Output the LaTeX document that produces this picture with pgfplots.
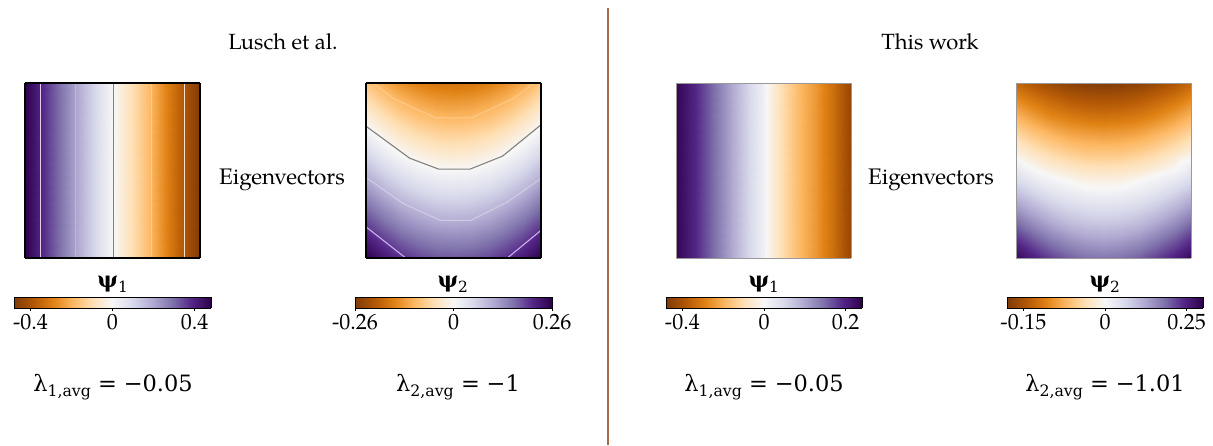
\documentclass[border=0pt]{standalone}
\usepackage{pgfplots}
\pgfplotsset{compat=1.18}
\usepackage{fontspec}
\setmainfont{TeX Gyre Pagella}
\newfontfamily\symfont{DejaVu Serif}

\definecolor{divider}{RGB}{168,108,68}

% PuOr diverging map, stops placed so that white sits at zero for each panel's range
\pgfplotsset{
  colormap={luschA}{rgb255(0pt)=(127,59,8) rgb255(96pt)=(179,88,6) rgb255(192pt)=(224,130,20) rgb255(288pt)=(253,184,99) rgb255(384pt)=(254,224,182) rgb255(480pt)=(247,247,247) rgb255(576pt)=(216,218,235) rgb255(672pt)=(178,171,210) rgb255(768pt)=(128,115,172) rgb255(864pt)=(84,39,136) rgb255(960pt)=(45,0,75)},
  colormap={luschB}{rgb255(0pt)=(127,59,8) rgb255(52pt)=(179,88,6) rgb255(104pt)=(224,130,20) rgb255(156pt)=(253,184,99) rgb255(208pt)=(254,224,182) rgb255(260pt)=(247,247,247) rgb255(312pt)=(216,218,235) rgb255(364pt)=(178,171,210) rgb255(416pt)=(128,115,172) rgb255(468pt)=(84,39,136) rgb255(520pt)=(45,0,75)},
  colormap={oursA}{rgb255(0pt)=(127,59,8) rgb255(96pt)=(179,88,6) rgb255(192pt)=(224,130,20) rgb255(288pt)=(253,184,99) rgb255(384pt)=(254,224,182) rgb255(480pt)=(247,247,247) rgb255(528pt)=(216,218,235) rgb255(576pt)=(178,171,210) rgb255(624pt)=(128,115,172) rgb255(672pt)=(84,39,136) rgb255(720pt)=(45,0,75)},
  colormap={oursB}{rgb255(0pt)=(127,59,8) rgb255(36pt)=(179,88,6) rgb255(72pt)=(224,130,20) rgb255(108pt)=(253,184,99) rgb255(144pt)=(254,224,182) rgb255(180pt)=(247,247,247) rgb255(240pt)=(216,218,235) rgb255(300pt)=(178,171,210) rgb255(360pt)=(128,115,172) rgb255(420pt)=(84,39,136) rgb255(480pt)=(45,0,75)},
  heat/.style={view={0}{90}, scale only axis, width=175pt, height=175pt,
    xmin=-0.5, xmax=0.5, ymin=-0.5, ymax=0.5, ticks=none,
    anchor=south west, axis on top, enlargelimits=false},
  % gradient strip of a colour bar
  cbar/.style={view={0}{90}, scale only axis, height=11pt, ymin=0, ymax=1,
    ticks=none, anchor=south west, axis on top, enlargelimits=false,
    axis line style={black, line width=0.7pt}},
  % tick marks and labels of a colour bar
  cticks/.style={scale only axis, height=11pt, ymin=0, ymax=1,
    ytick=\empty, anchor=south west, enlargelimits=false,
    xtick pos=left, tick align=outside, major tick length=3.5pt,
    axis line style={draw=none},
    xtick style={black, line width=0.6pt},
    xticklabel style={font=\fontsize{22}{26}\selectfont, inner sep=3pt}},
}

\begin{document}
\begin{tikzpicture}[x=1pt, y=1pt]
\path (0,0) rectangle (1213,445);

% ---------------- Lusch et al., psi_1 ----------------
\begin{axis}[heat, at={(25pt,187pt)}, colormap name=luschA,
  point meta min=-0.48, point meta max=0.48,
  axis line style={black, line width=1.6pt}]
\addplot3[surf, shader=interp, mesh/cols=11] coordinates {
(-0.5,-0.5,0.480) (-0.4,-0.5,0.386) (-0.3,-0.5,0.289) (-0.2,-0.5,0.192) (-0.1,-0.5,0.098) (0,-0.5,0.005) (0.1,-0.5,-0.087) (0.2,-0.5,-0.178) (0.3,-0.5,-0.280) (0.4,-0.5,-0.385) (0.5,-0.5,-0.480)
(-0.5,0.5,0.480) (-0.4,0.5,0.386) (-0.3,0.5,0.289) (-0.2,0.5,0.192) (-0.1,0.5,0.098) (0,0.5,0.005) (0.1,0.5,-0.087) (0.2,0.5,-0.178) (0.3,0.5,-0.280) (0.4,0.5,-0.385) (0.5,0.5,-0.480)
};
% contour levels 0.4, 0.2, 0, -0.2, -0.4
\addplot3[no marks, draw={rgb,255:red,225;green,205;blue,240}, line width=1pt] coordinates {(-0.414,-0.5,0) (-0.414,0.5,0)};
\addplot3[no marks, draw=white, draw opacity=0.25, line width=1pt] coordinates {(-0.209,-0.5,0) (-0.209,0.5,0)};
\addplot3[no marks, draw=gray, line width=1pt] coordinates {(0.005,-0.5,0) (0.005,0.5,0)};
\addplot3[no marks, draw=white, draw opacity=0.25, line width=1pt] coordinates {(0.224,-0.5,0) (0.224,0.5,0)};
\addplot3[no marks, draw={rgb,255:red,245;green,225;blue,210}, line width=1pt] coordinates {(0.414,-0.5,0) (0.414,0.5,0)};
\end{axis}

% ---------------- Lusch et al., psi_2 ----------------
\begin{axis}[heat, at={(366pt,187pt)}, colormap name=luschB,
  point meta min=-0.26, point meta max=0.26,
  axis line style={black, line width=1.6pt}]
\addplot3[surf, shader=interp, mesh/cols=11] table {
x y v
-0.5 -0.5 0.259
-0.4 -0.5 0.228
-0.3 -0.5 0.204
-0.2 -0.5 0.186
-0.1 -0.5 0.176
0 -0.5 0.173
0.1 -0.5 0.176
0.2 -0.5 0.186
0.3 -0.5 0.204
0.4 -0.5 0.228
0.5 -0.5 0.259
-0.5 -0.4 0.224
-0.4 -0.4 0.193
-0.3 -0.4 0.169
-0.2 -0.4 0.152
-0.1 -0.4 0.141
0 -0.4 0.138
0.1 -0.4 0.141
0.2 -0.4 0.152
0.3 -0.4 0.169
0.4 -0.4 0.193
0.5 -0.4 0.224
-0.5 -0.3 0.190
-0.4 -0.3 0.159
-0.3 -0.3 0.135
-0.2 -0.3 0.117
-0.1 -0.3 0.107
0 -0.3 0.104
0.1 -0.3 0.107
0.2 -0.3 0.117
0.3 -0.3 0.135
0.4 -0.3 0.159
0.5 -0.3 0.190
-0.5 -0.2 0.155
-0.4 -0.2 0.124
-0.3 -0.2 0.100
-0.2 -0.2 0.083
-0.1 -0.2 0.072
0 -0.2 0.069
0.1 -0.2 0.072
0.2 -0.2 0.083
0.3 -0.2 0.100
0.4 -0.2 0.124
0.5 -0.2 0.155
-0.5 -0.1 0.121
-0.4 -0.1 0.090
-0.3 -0.1 0.066
-0.2 -0.1 0.048
-0.1 -0.1 0.038
0 -0.1 0.035
0.1 -0.1 0.038
0.2 -0.1 0.048
0.3 -0.1 0.066
0.4 -0.1 0.090
0.5 -0.1 0.121
-0.5 0 0.086
-0.4 0 0.055
-0.3 0 0.031
-0.2 0 0.014
-0.1 0 0.003
0 0 0.000
0.1 0 0.003
0.2 0 0.014
0.3 0 0.031
0.4 0 0.055
0.5 0 0.086
-0.5 0.1 0.052
-0.4 0.1 0.021
-0.3 0.1 -0.003
-0.2 0.1 -0.021
-0.1 0.1 -0.031
0 0.1 -0.035
0.1 0.1 -0.031
0.2 0.1 -0.021
0.3 0.1 -0.003
0.4 0.1 0.021
0.5 0.1 0.052
-0.5 0.2 0.017
-0.4 0.2 -0.014
-0.3 0.2 -0.038
-0.2 0.2 -0.055
-0.1 0.2 -0.066
0 0.2 -0.069
0.1 0.2 -0.066
0.2 0.2 -0.055
0.3 0.2 -0.038
0.4 0.2 -0.014
0.5 0.2 0.017
-0.5 0.3 -0.017
-0.4 0.3 -0.048
-0.3 0.3 -0.072
-0.2 0.3 -0.090
-0.1 0.3 -0.100
0 0.3 -0.104
0.1 0.3 -0.100
0.2 0.3 -0.090
0.3 0.3 -0.072
0.4 0.3 -0.048
0.5 0.3 -0.017
-0.5 0.4 -0.052
-0.4 0.4 -0.083
-0.3 0.4 -0.107
-0.2 0.4 -0.124
-0.1 0.4 -0.135
0 0.4 -0.138
0.1 0.4 -0.135
0.2 0.4 -0.124
0.3 0.4 -0.107
0.4 0.4 -0.083
0.5 0.4 -0.052
-0.5 0.5 -0.086
-0.4 0.5 -0.117
-0.3 0.5 -0.141
-0.2 0.5 -0.159
-0.1 0.5 -0.169
0 0.5 -0.173
0.1 0.5 -0.169
0.2 0.5 -0.159
0.3 0.5 -0.141
0.4 0.5 -0.117
0.5 0.5 -0.086
};
% contour levels -0.1, 0, 0.1, 0.2
\addplot3[no marks, draw=white, draw opacity=0.25, line width=1pt] coordinates {(-0.46,0.5,0) (-0.34,0.41,0) (-0.1,0.30,0) (0.1,0.30,0) (0.34,0.41,0) (0.46,0.5,0)};
\addplot3[no marks, draw=gray, line width=1.1pt] coordinates {(-0.5,0.253,0) (-0.25,0.07,0) (-0.085,0.008,0) (0.095,0.008,0) (0.28,0.082,0) (0.5,0.261,0)};
\addplot3[no marks, draw=white, draw opacity=0.35, line width=1pt] coordinates {(-0.5,-0.04,0) (-0.285,-0.19,0) (-0.075,-0.285,0) (0.098,-0.285,0) (0.308,-0.18,0) (0.5,-0.045,0)};
\addplot3[no marks, draw={rgb,255:red,205;green,175;blue,235}, line width=1.1pt] coordinates {(-0.5,-0.322,0) (-0.273,-0.5,0)};
\addplot3[no marks, draw={rgb,255:red,205;green,175;blue,235}, line width=1.1pt] coordinates {(0.308,-0.5,0) (0.5,-0.342,0)};
\end{axis}

% ---------------- This work, psi_1 ----------------
\begin{axis}[heat, at={(676pt,187pt)}, colormap name=oursA,
  point meta min=-0.48, point meta max=0.24,
  axis line style={gray!80, line width=0.7pt}]
\addplot3[surf, shader=interp, mesh/cols=11] coordinates {
(-0.5,-0.5,0.233) (-0.4,-0.5,0.197) (-0.3,-0.5,0.154) (-0.2,-0.5,0.106) (-0.1,-0.5,0.058) (0,-0.5,0.010) (0.1,-0.5,-0.096) (0.2,-0.5,-0.187) (0.3,-0.5,-0.250) (0.4,-0.5,-0.336) (0.5,-0.5,-0.442)
(-0.5,0.5,0.233) (-0.4,0.5,0.197) (-0.3,0.5,0.154) (-0.2,0.5,0.106) (-0.1,0.5,0.058) (0,0.5,0.010) (0.1,0.5,-0.096) (0.2,0.5,-0.187) (0.3,0.5,-0.250) (0.4,0.5,-0.336) (0.5,0.5,-0.442)
};
\end{axis}

% ---------------- This work, psi_2 ----------------
\begin{axis}[heat, at={(1016pt,187pt)}, colormap name=oursB,
  point meta min=-0.18, point meta max=0.30,
  axis line style={gray!80, line width=0.7pt}]
\addplot3[surf, shader=interp, mesh/cols=11] table {
x y v
-0.5 -0.5 0.285
-0.4 -0.5 0.250
-0.3 -0.5 0.220
-0.2 -0.5 0.196
-0.1 -0.5 0.180
0 -0.5 0.175
0.1 -0.5 0.180
0.2 -0.5 0.196
0.3 -0.5 0.220
0.4 -0.5 0.250
0.5 -0.5 0.285
-0.5 -0.4 0.236
-0.4 -0.4 0.200
-0.3 -0.4 0.170
-0.2 -0.4 0.147
-0.1 -0.4 0.133
0 -0.4 0.128
0.1 -0.4 0.133
0.2 -0.4 0.147
0.3 -0.4 0.170
0.4 -0.4 0.200
0.5 -0.4 0.236
-0.5 -0.3 0.185
-0.4 -0.3 0.150
-0.3 -0.3 0.122
-0.2 -0.3 0.100
-0.1 -0.3 0.088
0 -0.3 0.084
0.1 -0.3 0.088
0.2 -0.3 0.100
0.3 -0.3 0.122
0.4 -0.3 0.150
0.5 -0.3 0.185
-0.5 -0.2 0.132
-0.4 -0.2 0.100
-0.3 -0.2 0.074
-0.2 -0.2 0.056
-0.1 -0.2 0.045
0 -0.2 0.042
0.1 -0.2 0.045
0.2 -0.2 0.056
0.3 -0.2 0.074
0.4 -0.2 0.100
0.5 -0.2 0.132
-0.5 -0.1 0.079
-0.4 -0.1 0.051
-0.3 -0.1 0.029
-0.2 -0.1 0.013
-0.1 -0.1 0.003
0 -0.1 0.000
0.1 -0.1 0.003
0.2 -0.1 0.013
0.3 -0.1 0.029
0.4 -0.1 0.051
0.5 -0.1 0.079
-0.5 0 0.030
-0.4 0 0.001
-0.3 0 -0.013
-0.2 0 -0.022
-0.1 0 -0.028
0 0 -0.030
0.1 0 -0.028
0.2 0 -0.022
0.3 0 -0.013
0.4 0 0.001
0.5 0 0.030
-0.5 0.1 -0.012
-0.4 0.1 -0.029
-0.3 0.1 -0.042
-0.2 0.1 -0.052
-0.1 0.1 -0.058
0 0.1 -0.059
0.1 0.1 -0.058
0.2 0.1 -0.052
0.3 0.1 -0.042
0.4 0.1 -0.029
0.5 0.1 -0.012
-0.5 0.2 -0.042
-0.4 0.2 -0.059
-0.3 0.2 -0.072
-0.2 0.2 -0.082
-0.1 0.2 -0.087
0 0.2 -0.089
0.1 0.2 -0.087
0.2 0.2 -0.082
0.3 0.2 -0.072
0.4 0.2 -0.059
0.5 0.2 -0.042
-0.5 0.3 -0.071
-0.4 0.3 -0.088
-0.3 0.3 -0.102
-0.2 0.3 -0.111
-0.1 0.3 -0.117
0 0.3 -0.119
0.1 0.3 -0.117
0.2 0.3 -0.111
0.3 0.3 -0.102
0.4 0.3 -0.088
0.5 0.3 -0.071
-0.5 0.4 -0.101
-0.4 0.4 -0.118
-0.3 0.4 -0.131
-0.2 0.4 -0.141
-0.1 0.4 -0.147
0 0.4 -0.149
0.1 0.4 -0.147
0.2 0.4 -0.141
0.3 0.4 -0.131
0.4 0.4 -0.118
0.5 0.4 -0.101
-0.5 0.5 -0.131
-0.4 0.5 -0.148
-0.3 0.5 -0.161
-0.2 0.5 -0.171
-0.1 0.5 -0.176
0 0.5 -0.178
0.1 0.5 -0.176
0.2 0.5 -0.171
0.3 0.5 -0.161
0.4 0.5 -0.148
0.5 0.5 -0.131
};
\end{axis}

% ---------------- colour bars ----------------
\begin{axis}[cbar, at={(14pt,137pt)}, width=197pt, colormap name=luschA,
  point meta min=-0.48, point meta max=0.48, xmin=-0.48, xmax=0.48]
\addplot3[surf, shader=interp, mesh/cols=11] coordinates {
(-0.48,0,-0.48) (-0.384,0,-0.384) (-0.288,0,-0.288) (-0.192,0,-0.192) (-0.096,0,-0.096) (0,0,0) (0.096,0,0.096) (0.192,0,0.192) (0.288,0,0.288) (0.384,0,0.384) (0.48,0,0.48)
(-0.48,1,-0.48) (-0.384,1,-0.384) (-0.288,1,-0.288) (-0.192,1,-0.192) (-0.096,1,-0.096) (0,1,0) (0.096,1,0.096) (0.192,1,0.192) (0.288,1,0.288) (0.384,1,0.384) (0.48,1,0.48)
};
\end{axis}
\begin{axis}[cticks, at={(14pt,137pt)}, width=197pt, xmin=-0.48, xmax=0.48,
  xtick={-0.4,0,0.4}, xticklabels={-0.4,0,0.4}]
\end{axis}

\begin{axis}[cbar, at={(355pt,137pt)}, width=197pt, colormap name=luschB,
  point meta min=-0.26, point meta max=0.26, xmin=-0.26, xmax=0.26]
\addplot3[surf, shader=interp, mesh/cols=11] coordinates {
(-0.26,0,-0.26) (-0.208,0,-0.208) (-0.156,0,-0.156) (-0.104,0,-0.104) (-0.052,0,-0.052) (0,0,0) (0.052,0,0.052) (0.104,0,0.104) (0.156,0,0.156) (0.208,0,0.208) (0.26,0,0.26)
(-0.26,1,-0.26) (-0.208,1,-0.208) (-0.156,1,-0.156) (-0.104,1,-0.104) (-0.052,1,-0.052) (0,1,0) (0.052,1,0.052) (0.104,1,0.104) (0.156,1,0.156) (0.208,1,0.208) (0.26,1,0.26)
};
\end{axis}
\begin{axis}[cticks, at={(355pt,137pt)}, width=197pt, xmin=-0.26, xmax=0.26,
  xtick={-0.26,0,0.26}, xticklabels={-0.26,0,0.26}]
\end{axis}

% two-slope bars: each half is linear, zero sits in the middle
\begin{axis}[cbar, at={(666pt,137pt)}, width=196pt, colormap name=oursA,
  point meta min=-0.48, point meta max=0.24, xmin=-1, xmax=1]
\addplot3[surf, shader=interp, mesh/cols=11] coordinates {
(-1,0,-0.48) (-0.8,0,-0.384) (-0.6,0,-0.288) (-0.4,0,-0.192) (-0.2,0,-0.096) (0,0,0) (0.2,0,0.048) (0.4,0,0.096) (0.6,0,0.144) (0.8,0,0.192) (1,0,0.24)
(-1,1,-0.48) (-0.8,1,-0.384) (-0.6,1,-0.288) (-0.4,1,-0.192) (-0.2,1,-0.096) (0,1,0) (0.2,1,0.048) (0.4,1,0.096) (0.6,1,0.144) (0.8,1,0.192) (1,1,0.24)
};
\end{axis}
\begin{axis}[cticks, at={(666pt,137pt)}, width=196pt, xmin=-1, xmax=1,
  xtick={-0.8333,0,0.8333}, xticklabels={-0.4,0,0.2}]
\end{axis}

\begin{axis}[cbar, at={(1007pt,137pt)}, width=196pt, colormap name=oursB,
  point meta min=-0.18, point meta max=0.30, xmin=-1, xmax=1]
\addplot3[surf, shader=interp, mesh/cols=11] coordinates {
(-1,0,-0.18) (-0.8,0,-0.144) (-0.6,0,-0.108) (-0.4,0,-0.072) (-0.2,0,-0.036) (0,0,0) (0.2,0,0.06) (0.4,0,0.12) (0.6,0,0.18) (0.8,0,0.24) (1,0,0.30)
(-1,1,-0.18) (-0.8,1,-0.144) (-0.6,1,-0.108) (-0.4,1,-0.072) (-0.2,1,-0.036) (0,1,0) (0.2,1,0.06) (0.4,1,0.12) (0.6,1,0.18) (0.8,1,0.24) (1,1,0.30)
};
\end{axis}
\begin{axis}[cticks, at={(1007pt,137pt)}, width=196pt, xmin=-1, xmax=1,
  xtick={-0.8333,0,0.8333}, xticklabels={-0.15,0,0.25}]
\end{axis}

% ---------------- text ----------------
\node[anchor=base, font=\fontsize{22}{26}\selectfont] at (283,395) {Lusch et al.};
\node[anchor=base, font=\fontsize{22}{26}\selectfont] at (930,395) {This work};
\node[anchor=base, font=\fontsize{22.5}{27}\selectfont] at (282,260) {Eigenvectors};
\node[anchor=base, font=\fontsize{22.5}{27}\selectfont] at (931,260) {Eigenvectors};

\node[anchor=base, font=\symfont\fontsize{22}{26}\selectfont] at (113,157) {\textbf{ψ}\textsubscript{1}};
\node[anchor=base, font=\symfont\fontsize{22}{26}\selectfont] at (453,157) {\textbf{ψ}\textsubscript{2}};
\node[anchor=base, font=\symfont\fontsize{22}{26}\selectfont] at (764,157) {\textbf{ψ}\textsubscript{1}};
\node[anchor=base, font=\symfont\fontsize{22}{26}\selectfont] at (1105,157) {\textbf{ψ}\textsubscript{2}};

\node[anchor=base, font=\symfont\fontsize{22.5}{27}\selectfont] at (113,53) {λ\textsubscript{1,avg}\hspace{0.3em}=\hspace{0.3em}−0.05};
\node[anchor=base, font=\symfont\fontsize{22.5}{27}\selectfont] at (458,53) {λ\textsubscript{2,avg}\hspace{0.3em}=\hspace{0.3em}−1};
\node[anchor=base, font=\symfont\fontsize{22.5}{27}\selectfont] at (764,53) {λ\textsubscript{1,avg}\hspace{0.3em}=\hspace{0.3em}−0.05};
\node[anchor=base, font=\symfont\fontsize{22.5}{27}\selectfont] at (1105,53) {λ\textsubscript{2,avg}\hspace{0.3em}=\hspace{0.3em}−1.01};

% divider between the two halves
\draw[divider, line width=2pt] (607.5,437) -- (607.5,0);
\end{tikzpicture}
\end{document}
